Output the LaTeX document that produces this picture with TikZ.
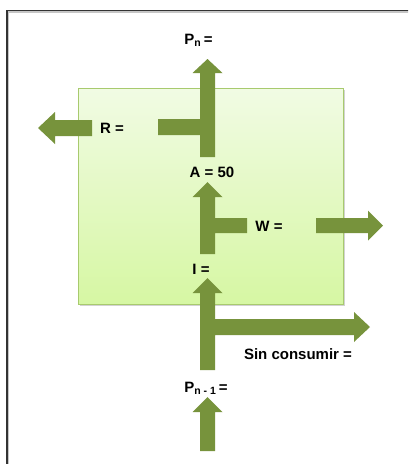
\documentclass[tikz,border=0pt]{standalone}
\usepackage{fontspec}
\setmainfont{Liberation Sans}
\definecolor{arrowgreen}{HTML}{77933C}
\definecolor{boxtop}{HTML}{F1FBE4}
\definecolor{boxbot}{HTML}{D6F7A3}
\definecolor{boxline}{HTML}{A8CA6E}
\definecolor{framec}{HTML}{333333}
\begin{document}
\begin{tikzpicture}[x=1pt,y=-1pt,
  lbl/.style={anchor=base,inner sep=0pt,font=\fontsize{15}{18}\selectfont\bfseries},
  blockarrow/.style={fill=arrowgreen,draw=none}]
\useasboundingbox (0,0) rectangle (408,464);
\clip (0,0) rectangle (408,464);
% frame
\draw[gray!45,line width=1.2pt] (8.5,12) rectangle (430,490);
\draw[framec,line width=1.4pt] (7,10.5) rectangle (430,490);
% green box
\fill[gray!35] (79.5,89.5) rectangle (344.5,305.5);
\shade[top color=boxtop,bottom color=boxbot,draw=boxline,line width=0.8pt] (78,88) rectangle (343,304);
% top T arrow
\fill[blockarrow] (200,157) -- (200,135) -- (158,135) -- (158,119) -- (200,119) -- (200,73)
  -- (192.5,73) -- (207.5,59) -- (222.5,73) -- (215,73) -- (215,157) -- cycle;
% R arrow
\fill[blockarrow] (92,120) -- (55,120) -- (55,112) -- (38,128) -- (55,144) -- (55,136) -- (92,136) -- cycle;
% middle T arrow
\fill[blockarrow] (200,254) -- (200,197) -- (192.5,197) -- (207.5,182) -- (222.5,197) -- (215,197)
  -- (215,218) -- (247,218) -- (247,233) -- (215,233) -- (215,254) -- cycle;
% W arrow
\fill[blockarrow] (316,218) -- (368,218) -- (368,210.5) -- (383,225.5) -- (368,240.5) -- (368,233) -- (316,233) -- cycle;
% bottom T arrow
\fill[blockarrow] (200,370) -- (200,293) -- (192.5,293) -- (207.5,278) -- (222.5,293) -- (215,293)
  -- (215,319) -- (354,319) -- (354,312) -- (370,327) -- (354,342) -- (354,335) -- (215,335) -- (215,370) -- cycle;
% lowest arrow
\fill[blockarrow] (200,451) -- (200,412) -- (192.5,412) -- (207.5,397) -- (222.5,412) -- (215,412) -- (215,451) -- cycle;
% labels
\node[lbl] (pn) at (198.5,44) {P\textsubscript{n}\,=};
\node[lbl] (r) at (112,133) {R =};
\node[lbl] (a) at (212,177) {A = 50};
\node[lbl] (w) at (269,231) {W =};
\node[lbl] (i) at (201,274) {I =};
\node[lbl] (sc) at (298,359) {Sin consumir =};
\node[lbl] (pn1) at (206,392) {P\textsubscript{n - 1}\,=};
\end{tikzpicture}
\end{document}
